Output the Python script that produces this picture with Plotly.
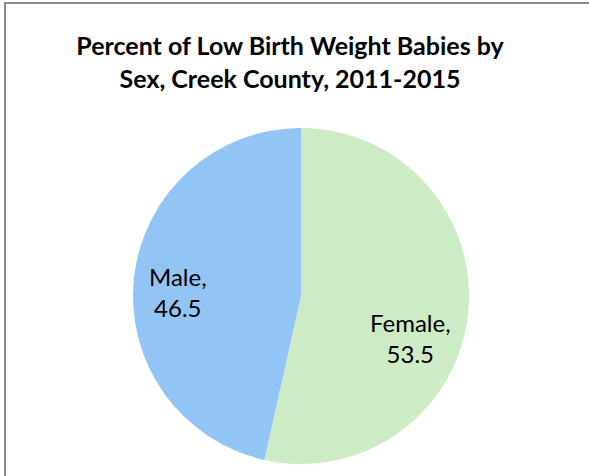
import plotly.graph_objects as go

labels = ["Female", "Male"]
values = [53.5, 46.5]
colors = ["#CDEBC4", "#92C5F5"]
title = "Percent of Low Birth Weight Babies by<br>Sex, Creek County, 2011-2015"

W, H = 589, 476
cx, cy, r = 301, 296, 168

fig = go.Figure(go.Pie(
    labels=labels, values=values, sort=False, direction="clockwise", rotation=0,
    marker=dict(colors=colors, line=dict(width=0)),
    textinfo="none", hoverinfo="label+value", showlegend=False,
    domain=dict(x=[(cx - r) / W, (cx + r) / W], y=[1 - (cy + r) / H, 1 - (cy - r) / H]),
))

# data labels placed at chosen pixel centres
label_pos = [(410, 338), (178, 292)]
annotations = []
for lab, val, (px, py) in zip(labels, values, label_pos):
    annotations.append(dict(
        text=f"{lab},<br>{val}", x=px / W, y=1 - py / H, xref="paper", yref="paper",
        xanchor="center", yanchor="middle", showarrow=False, align="center",
        font=dict(family="Lato", size=24, color="#000000"),
    ))

fig.update_layout(
    width=W, height=H, margin=dict(l=0, r=0, t=0, b=0),
    paper_bgcolor="white", plot_bgcolor="white",
    title=dict(text=title, x=290 / W, xanchor="center", y=1 - 55 / H, yanchor="middle",
               font=dict(family="Lato", size=25, color="#000000", weight="bold")),
    annotations=annotations,
    shapes=[dict(type="rect", xref="paper", yref="paper", x0=5 / W, x1=1.2, y0=-0.2, y1=1 - 3 / H,
                 line=dict(color="#8C8C8C", width=2), fillcolor="rgba(0,0,0,0)", layer="below")],
)

fig.write_html("out.html", config={"displayModeBar": False},
               post_script="document.body.style.margin='0';")
